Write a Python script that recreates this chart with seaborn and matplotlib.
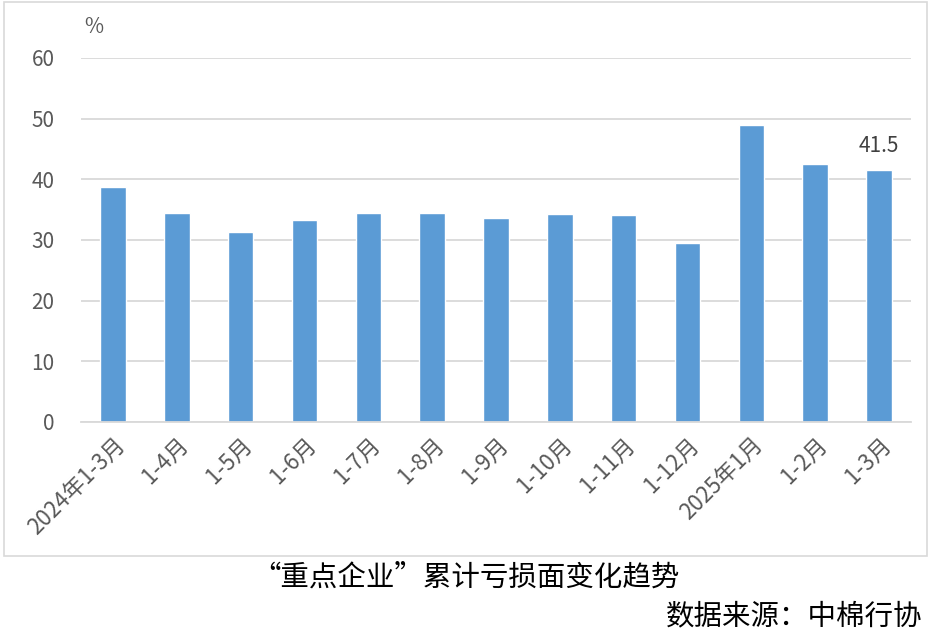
import matplotlib
matplotlib.use("Agg")
import matplotlib.pyplot as plt
import seaborn as sns
import pandas as pd
from matplotlib.patches import Rectangle

categories = ["2024年1-3月", "1-4月", "1-5月", "1-6月", "1-7月", "1-8月", "1-9月",
              "1-10月", "1-11月", "1-12月", "2025年1月", "1-2月", "1-3月"]
loss_ratio = [38.7, 34.4, 31.3, 33.3, 34.4, 34.4, 33.6, 34.3, 34.1, 29.5, 48.9, 42.5, 41.5]
y_ticks = [0, 10, 20, 30, 40, 50, 60]

sns.set_theme(style="white")
plt.rcParams["font.family"] = ["Noto Sans CJK SC", "DejaVu Sans"]

grey = "#595959"
df = pd.DataFrame({"period": categories, "value": loss_ratio})

fig = plt.figure(figsize=(9.32, 6.41), dpi=100)
ax = fig.add_axes([81 / 932, 1 - 422 / 641, 830 / 932, 364 / 641])
sns.barplot(data=df, x="period", y="value", color="#5b9bd5", width=0.4,
            saturation=1, ax=ax)

ax.set_ylim(0, 60)
ax.set_xlim(-0.5, len(categories) - 0.5)
ax.set_yticks(y_ticks)
ax.yaxis.grid(True, color="#d9d9d9", linewidth=1.3)
ax.set_axisbelow(True)
for side in ["top", "right", "left"]:
    ax.spines[side].set_visible(False)
ax.spines["bottom"].set_color("#d9d9d9")
ax.spines["bottom"].set_linewidth(1.3)
ax.tick_params(axis="y", length=0, labelsize=15, colors=grey, pad=19)
ax.tick_params(axis="x", length=0, labelsize=16, colors=grey, pad=8)
ax.set_xlabel("")
ax.set_ylabel("")
plt.setp(ax.get_xticklabels(), rotation=45, ha="right", rotation_mode="anchor")

# label on the last bar only
last = len(categories) - 1
ax.text(last, loss_ratio[last] + 2.2, f"{loss_ratio[last]}", ha="center",
        va="bottom", fontsize=15, color="#404040")

fig.text(84 / 932, 1 - 27 / 641, "%", fontsize=15, color=grey, ha="left", va="center")

# chart border
fig.patches.append(Rectangle((4 / 932, 1 - 556 / 641), 923 / 932, 554 / 641,
                             transform=fig.transFigure, fill=False,
                             edgecolor="#d9d9d9", linewidth=1.2))

fig.text(0.5, 1 - 578 / 641, "“重点企业”累计亏损面变化趋势", fontsize=20.5,
         color="black", ha="center", va="center")
fig.text(922 / 932, 1 - 616 / 641, "数据来源：中棉行协", fontsize=20.5,
         color="black", ha="right", va="center")

fig.savefig("out.png", dpi=100)
